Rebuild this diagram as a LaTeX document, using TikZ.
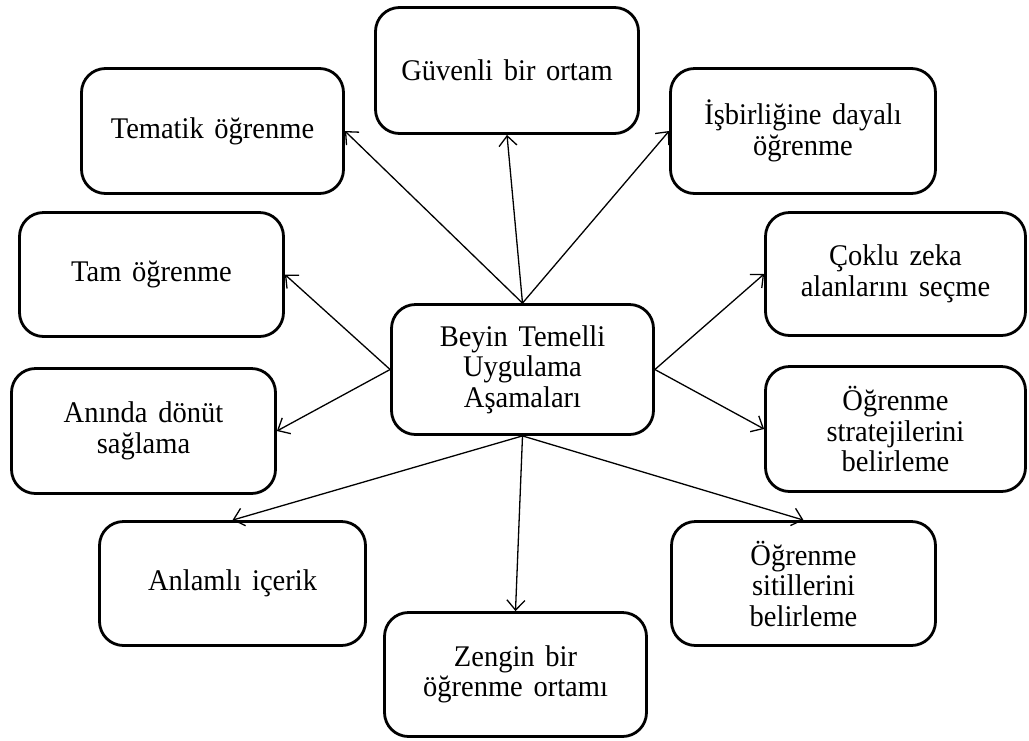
\documentclass[tikz,border=0pt]{standalone}
\usepackage{fontspec}
\setmainfont{Liberation Serif}[FakeStretch=0.95, WordSpace=1.5]
\usetikzlibrary{arrows.meta}
\newcommand\myboxfont{\fontsize{30pt}{30.5pt}\selectfont}
\tikzset{
  box/.style={draw, line width=2.8pt, rounded corners=24pt, fill=white,
    align=center, inner sep=0pt, font=\myboxfont},
  conn/.style={line width=1.3pt, -{Straight Barb[length=10pt,width=18pt,line width=1.3pt]}}
}
\begin{document}
\begin{tikzpicture}[x=1pt,y=-1pt]
\fill[white] (0,0) rectangle (1029,740);
\useasboundingbox (0,0) rectangle (1029,740);

\node[box, minimum width=263pt, minimum height=126pt] (guv)   at (507,70.5)   {Güvenli bir ortam};
\node[box, minimum width=262pt, minimum height=125pt] (tem)   at (212.5,131)  {Tematik öğrenme};
\node[box, minimum width=265pt, minimum height=125pt] (isb)   at (803,131)    {İşbirliğine dayalı\\öğrenme};
\node[box, minimum width=264pt, minimum height=124pt] (tam)   at (151.5,274.5){Tam öğrenme};
\node[box, minimum width=260pt, minimum height=123pt] (cok)   at (895.5,274)  {Çoklu zeka\\alanlarını seçme};
\node[box, minimum width=264pt, minimum height=125pt] (anin)  at (143.5,431)  {Anında dönüt\\sağlama};
\node[box, minimum width=260pt, minimum height=125pt] (strat) at (895.5,429)  {Öğrenme\\stratejilerini\\belirleme};
\node[box, minimum width=262pt, minimum height=130pt] (mid)   at (522.5,369.5){Beyin Temelli\\Uygulama\\Aşamaları};
\node[box, minimum width=266pt, minimum height=124pt] (anl)   at (232.5,583.5){Anlamlı içerik};
\node[box, minimum width=264pt, minimum height=124pt] (sit)   at (803.5,583.5){Öğrenme\\sitillerini\\belirleme};
\node[box, minimum width=262pt, minimum height=124pt] (zen)   at (515.5,674.5){Zengin bir\\öğrenme ortamı};

\draw[conn] (mid.north) -- (tem.east);
\draw[conn] (mid.north) -- (guv.south);
\draw[conn] (mid.north) -- (isb.west);
\draw[conn] (mid.west) -- (tam.east);
\draw[conn] (mid.west) -- (anin.east);
\draw[conn] (mid.east) -- (cok.west);
\draw[conn] (mid.east) -- (strat.west);
\draw[conn] (mid.south) -- (anl.north);
\draw[conn] (mid.south) -- (zen.north);
\draw[conn] (mid.south) -- (sit.north);
\end{tikzpicture}
\end{document}
